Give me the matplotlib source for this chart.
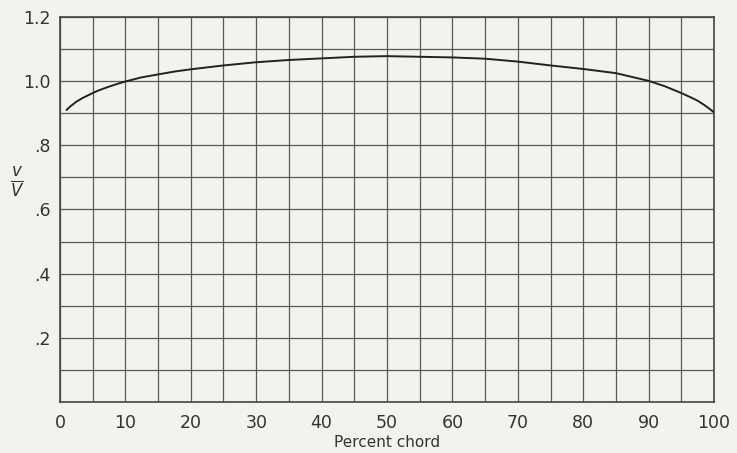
import matplotlib
matplotlib.use("Agg")
import matplotlib.pyplot as plt
import numpy as np

percent_chord = [1.0, 1.5, 2.0, 2.5, 3.5, 5, 6, 7.5, 9, 10, 12.5, 15, 17.5, 20,
                 25, 30, 35, 40, 45, 50, 55, 60, 65, 70, 75, 80, 85, 87.5,
                 90, 92.5, 95, 96.5, 97.5, 98.5, 99.3, 100]
v_ratio = [0.910, 0.920, 0.928, 0.936, 0.948, 0.963, 0.972, 0.983, 0.993,
           0.999, 1.012, 1.021, 1.030, 1.037, 1.049, 1.059, 1.066, 1.071,
           1.076, 1.078, 1.076, 1.074, 1.070, 1.061, 1.049, 1.038, 1.025,
           1.013, 1.001, 0.984, 0.963, 0.949, 0.939, 0.926, 0.914, 0.903]

x_ticks = [0, 10, 20, 30, 40, 50, 60, 70, 80, 90, 100]
x_ticklabels = ["0", "10", "20", "30", "40", "50", "60", "70", "80", "90", "100"]
y_ticks = [0.2, 0.4, 0.6, 0.8, 1.0, 1.2]
y_ticklabels = [".2", ".4", ".6", ".8", "1.0", "1.2"]

bg = "#f4f2ee"
ink = "#333333"

fig = plt.figure(figsize=(7.37, 4.53), dpi=100, facecolor=bg)
ax = fig.add_axes([60/737, 51/453, 654/737, 385/453])
ax.set_facecolor(bg)

ax.set_xlim(0, 100)
ax.set_ylim(0, 1.2)

for xv in np.arange(0, 101, 5):
    ax.axvline(xv, color="#5a5a5a", lw=0.9, zorder=1)
for yv in np.arange(0, 1.21, 0.1):
    ax.axhline(yv, color="#5a5a5a", lw=0.9, zorder=1)

ax.plot(percent_chord, v_ratio, color="#222222", lw=1.4, zorder=3,
        solid_capstyle="round", solid_joinstyle="round")

for s in ax.spines.values():
    s.set_color("#444444")
    s.set_linewidth(1.2)

ax.set_xticks(x_ticks)
ax.set_xticklabels(x_ticklabels)
ax.set_yticks(y_ticks)
ax.set_yticklabels(y_ticklabels)
ax.tick_params(axis="both", length=0, labelsize=12.5, colors=ink)
ax.tick_params(axis="x", pad=9)
ax.tick_params(axis="y", pad=7)

ax.set_xlabel("Percent chord", fontsize=11, color=ink, labelpad=2)
fig.text(17/737, 1 - 183/453, r"$\frac{v}{V}$", fontsize=17, color=ink,
         ha="center", va="center")

fig.savefig("out.png", dpi=100, facecolor=bg)
